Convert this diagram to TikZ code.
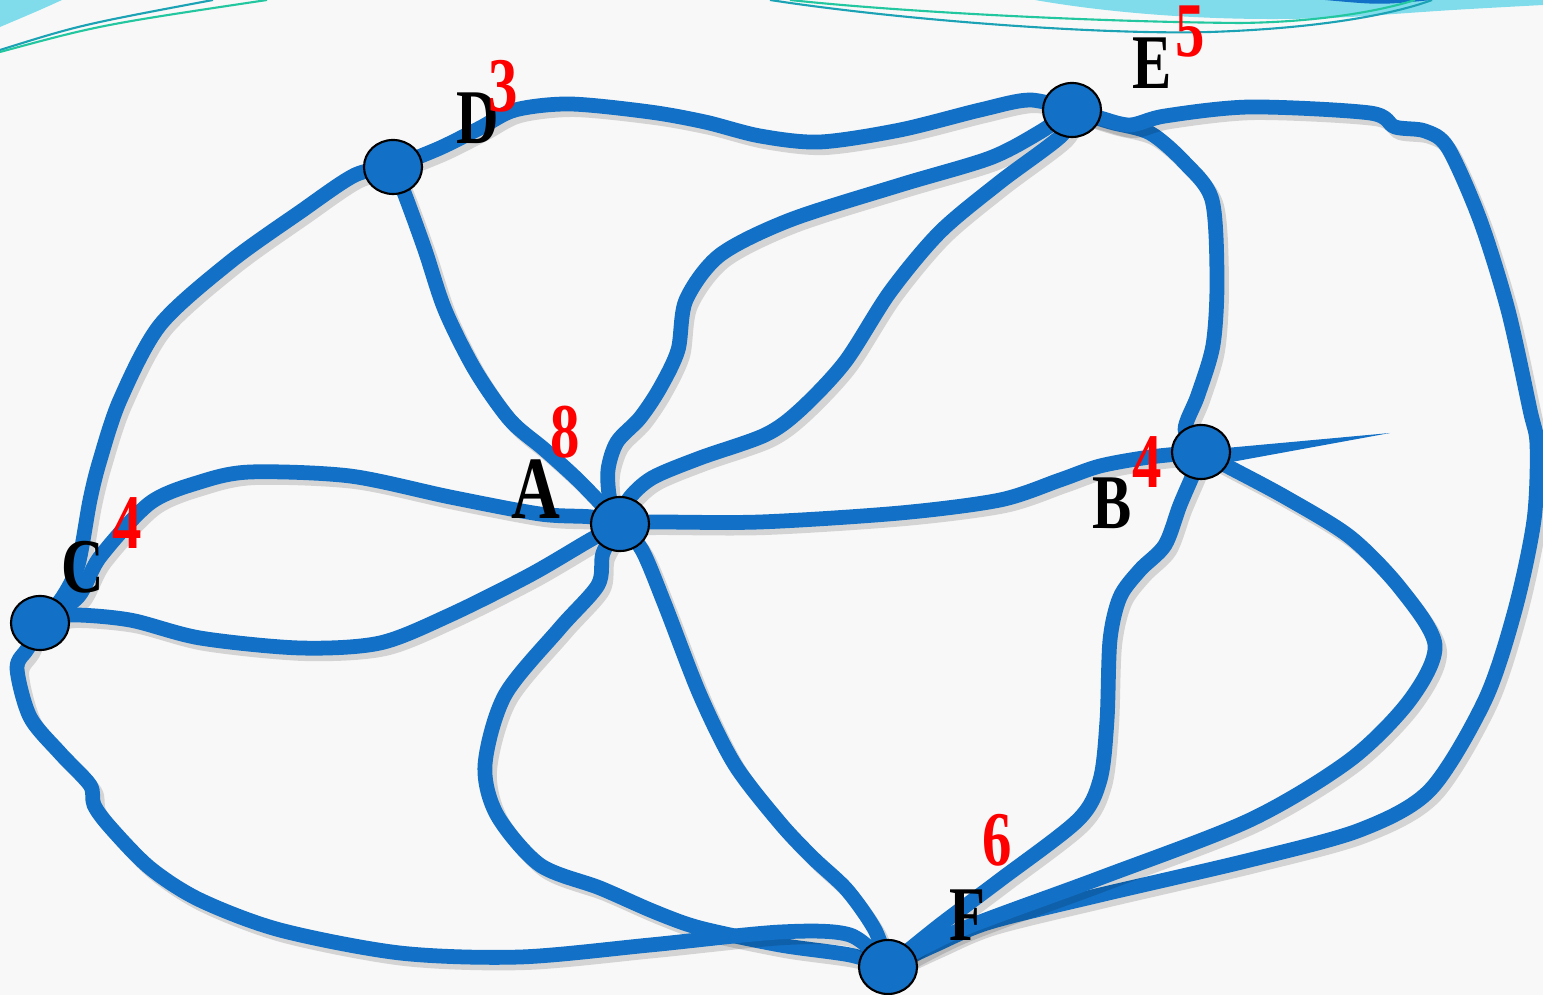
\documentclass[tikz,border=0pt]{standalone}
\usepackage{fontspec}
\setmainfont{Liberation Serif}
\usepackage{graphicx}
\usetikzlibrary{backgrounds,shapes.geometric}
\definecolor{edgeblue}{RGB}{18,112,198}
\definecolor{wavecyan}{RGB}{128,220,235}
\definecolor{waveteal}{RGB}{27,163,181}
\definecolor{wavegreen}{RGB}{34,199,160}
\definecolor{paper}{RGB}{248,248,248}
\newcommand{\vname}[1]{\scalebox{0.76}[1]{\fontsize{22}{22}\selectfont\bfseries #1}}
\newcommand{\vdeg}[1]{\scalebox{0.76}[1]{\fontsize{22}{22}\selectfont\bfseries\color{red}#1}}
\begin{document}
\begin{tikzpicture}[x=0.01cm, y=-0.01cm,
	vertex/.style={ellipse, draw=black, line width=0.6pt, fill=edgeblue, minimum width=0.58cm, minimum height=0.54cm, inner sep=0pt},
	link/.style={draw=edgeblue, line width=4.2pt, line cap=round, line join=round,
		preaction={draw=black, opacity=0.14, line width=4pt, transform canvas={xshift=1.4pt, yshift=-1.7pt}}},
	lbl/.style={inner sep=0pt}]
	\useasboundingbox (0,0) rectangle (1543,995);

	\node[vertex] (D) at (393,167) {};
	\node[vertex] (E) at (1072,110) {};
	\node[vertex] (A) at (620,524) {};
	\node[vertex] (B) at (1201,452) {};
	\node[vertex] (C) at (40,623) {};
	\node[vertex] (F) at (888,967) {};

	\node[lbl] (Dname) at (478,118) {\vname{D}};
	\node[lbl] (Ename) at (1152,63) {\vname{E}};
	\node[lbl] (Aname) at (536,489) {\scalebox{1.15}{\vname{A}}};
	\node[lbl] (Bname) at (1112,503) {\vname{B}};
	\node[lbl] (Cname) at (83,567) {\vname{C}};
	\node[lbl] (Fname) at (967,915) {\vname{F}};

	\node[lbl] (Ddeg) at (503,86) {\vdeg{3}};
	\node[lbl] (Edeg) at (1190,32) {\vdeg{5}};
	\node[lbl] (Adeg) at (565,432) {\vdeg{8}};
	\node[lbl] (Bdeg) at (1147,462) {\vdeg{4}};
	\node[lbl] (Cdeg) at (127,523) {\vdeg{4}};
	\node[lbl] (Fdeg) at (997,840) {\vdeg{6}};

	\begin{scope}[on background layer]
		\fill[paper] (0,0) rectangle (1543,995);
		% slide waves
		\fill[wavecyan] (0,0) -- (62,0) .. controls (40,10) .. (0,27) -- cycle;
		\fill[wavecyan] (1035,0) .. controls (1120,15) and (1250,25) .. (1380,15) .. controls (1450,10) .. (1543,5) -- (1543,0) -- cycle;
		\fill[edgeblue] (1325,0) .. controls (1380,5) .. (1432,0) -- cycle;
		\draw[waveteal, line width=0.6pt] (0,50) .. controls (80,25) .. (213,0);
		\draw[wavegreen, line width=0.6pt] (0,52) .. controls (100,25) .. (267,0);
		\draw[waveteal, line width=0.6pt] (770,0) .. controls (900,20) and (1100,35) .. (1210,32) .. controls (1330,28) and (1400,12) .. (1432,0);
		\draw[wavegreen, line width=0.6pt] (790,0) .. controls (900,12) and (1100,22) .. (1240,23) .. controls (1330,22) and (1390,8) .. (1415,0);
	\end{scope}

	\begin{scope}[on background layer]
		% D
		\path[link] plot[smooth] coordinates {(D) (440,148) (480,128) (515,110) (570,104) (650,112) (705,122) (760,136) (820,142) (900,130) (980,110) (1030,100) (E)};
		\path[link] plot[smooth] coordinates {(D) (355,175) (300,212) (230,262) (160,325) (120,400) (100,460) (90,500) (78,565) (62,598) (C)};
		\path[link] plot[smooth] coordinates {(D) (405,195) (425,250) (445,310) (475,370) (510,420) (545,450) (580,482) (A)};
		% E
		\path[link] plot[smooth] coordinates {(E) (1040,132) (990,158) (900,185) (790,220) (720,255) (686,300) (678,350) (660,388) (640,418) (617,442) (608,470) (610,500) (A)};
		\path[link] plot[smooth] coordinates {(E) (1062,135) (1000,182) (940,232) (890,292) (845,362) (800,410) (765,435) (700,458) (652,478) (628,500) (A)};
		\path[link] plot[smooth] coordinates {(E) (1110,122) (1150,133) (1185,163) (1212,200) (1217,280) (1213,345) (1198,395) (1185,430) (B)};
		\path[link] plot[smooth] coordinates {(E) (1100,118) (1130,125) (1165,116) (1250,107) (1370,113) (1395,127) (1425,131) (1448,148) (1480,220) (1508,310) (1530,410) (1537,445) (1534,520) (1515,610) (1485,700) (1430,790) (1360,830) (1250,860) (1100,895) (990,922) (935,945) (F)};
		% A
		\path[link] plot[smooth] coordinates {(A) (650,522) (760,522) (900,513) (1000,500) (1060,480) (1100,466) (1150,457) (B)};
		\fill[edgeblue] (1226,448) -- (1390,433) -- (1226,463) -- cycle;
		\path[link] plot[smooth] coordinates {(C) (78,597) (100,557) (150,503) (200,482) (250,472) (350,476) (450,497) (540,514) (592,517) (A)};
		\path[link] plot[smooth] coordinates {(C) (70,615) (130,620) (200,638) (300,648) (380,643) (450,615) (530,575) (590,540) (A)};
		\path[link] plot[smooth] coordinates {(A) (642,550) (665,605) (700,695) (735,765) (780,823) (813,858) (847,890) (875,930) (F)};
		\path[link] plot[smooth] coordinates {(A) (603,553) (598,585) (560,628) (505,695) (485,765) (497,815) (540,865) (600,888) (655,912) (700,928) (780,945) (850,955) (F)};
		% B
		\path[link] plot[smooth] coordinates {(B) (1195,470) (1180,505) (1165,545) (1140,570) (1120,597) (1110,640) (1107,720) (1100,780) (1078,820) (1000,880) (940,925) (F)};
		\path[link] plot[smooth] coordinates {(B) (1225,465) (1285,497) (1350,537) (1400,588) (1435,645) (1410,700) (1350,760) (1250,820) (1100,878) (960,930) (F)};
		% C
		\path[link] plot[smooth] coordinates {(C) (28,648) (17,668) (30,717) (60,753) (90,785) (94,805) (110,827) (150,868) (200,900) (280,930) (400,953) (520,957) (650,945) (780,932) (850,935) (F)};
	\end{scope}
\end{tikzpicture}
\end{document}
